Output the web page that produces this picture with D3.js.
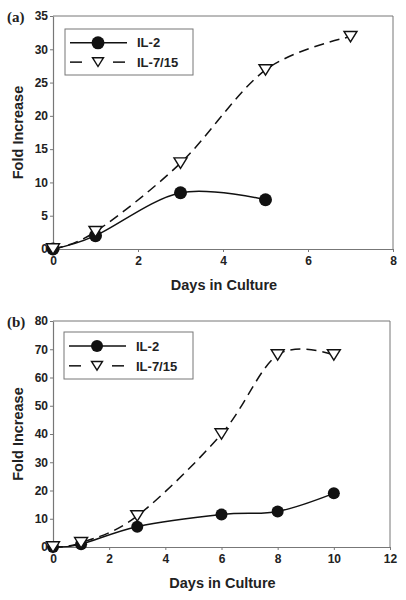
<!DOCTYPE html>
<html>
<head>
<meta charset="utf-8">
<script src="https://cdn.jsdelivr.net/npm/d3@7"></script>
<style>
  html, body { margin: 0; padding: 0; background: #fff; }
  svg { display: block; }
</style>
</head>
<body>
<svg id="chart" width="406" height="600"></svg>
<script>
// ---- Data ----
const seriesNames = ["IL-2", "IL-7/15"];

// Panel (a)
const daysA_IL2 = [0, 1, 3, 5];
const valsA_IL2 = [0, 2, 8.45, 7.4];
const daysA_IL715 = [0, 1, 3, 5, 7];
const valsA_IL715 = [0, 2.6, 12.9, 26.9, 31.9];
const xTicksA = [0, 2, 4, 6, 8];
const yTicksA = [0, 5, 10, 15, 20, 25, 30, 35];

// Panel (b)
const daysB_IL2 = [0, 1, 3, 6, 8, 10];
const valsB_IL2 = [0, 1, 7.2, 11.5, 12.6, 19];
const daysB_IL715 = [0, 1, 3, 6, 8, 10];
const valsB_IL715 = [0, 1.5, 11, 40, 68, 68];
const xTicksB = [0, 2, 4, 6, 8, 10, 12];
const yTicksB = [0, 10, 20, 30, 40, 50, 60, 70, 80];

const svg = d3.select("#chart");
const FONT = "'Liberation Sans', Arial, Helvetica, sans-serif";
const AXIS_COLOR = "#777";

function panel(cfg) {
  const g = svg.append("g");
  const x = d3.scaleLinear().domain(cfg.xDomain).range([cfg.left, cfg.right]);
  const y = d3.scaleLinear().domain(cfg.yDomain).range([cfg.bottom, cfg.top]);

  // frame top & right
  g.append("line").attr("x1", cfg.left).attr("x2", cfg.right).attr("y1", cfg.top).attr("y2", cfg.top)
    .attr("stroke", AXIS_COLOR).attr("stroke-width", 1);
  g.append("line").attr("x1", cfg.right).attr("x2", cfg.right).attr("y1", cfg.top).attr("y2", cfg.bottom)
    .attr("stroke", AXIS_COLOR).attr("stroke-width", 1);

  // axes
  const xAxis = g.append("g").attr("transform", `translate(0,${cfg.bottom})`)
    .call(d3.axisBottom(x).tickValues(cfg.xTicks).tickSize(3).tickSizeOuter(0).tickFormat(d3.format("d")));
  const yAxis = g.append("g").attr("transform", `translate(${cfg.left},0)`)
    .call(d3.axisLeft(y).tickValues(cfg.yTicks).tickSize(3).tickSizeOuter(0).tickFormat(d3.format("d")));
  [xAxis, yAxis].forEach(a => {
    a.select(".domain").attr("stroke", AXIS_COLOR).attr("stroke-width", 1.2);
    a.selectAll(".tick line").attr("stroke", AXIS_COLOR);
    a.selectAll(".tick text").attr("font-family", FONT).attr("font-weight", "bold")
      .attr("font-size", 12).attr("fill", "#222");
  });
  xAxis.selectAll(".tick text").attr("dy", "0.71em").attr("y", 7);
  yAxis.selectAll(".tick text").attr("x", -5);

  // axis titles
  g.append("text").attr("x", (cfg.left + cfg.right) / 2 + 1).attr("y", cfg.bottom + 41)
    .attr("text-anchor", "middle").attr("font-family", FONT).attr("font-weight", "bold")
    .attr("font-size", 14.5).attr("fill", "#222").text("Days in Culture");
  g.append("text")
    .attr("transform", `translate(23,${(cfg.top + cfg.bottom) / 2}) rotate(-90)`)
    .attr("text-anchor", "middle").attr("font-family", FONT).attr("font-weight", "bold")
    .attr("font-size", 14.5).attr("fill", "#222").text("Fold Increase");

  // panel label
  g.append("text").attr("x", 7).attr("y", cfg.top + 6)
    .attr("font-family", "'Liberation Serif', 'Times New Roman', serif").attr("font-weight", "bold")
    .attr("font-size", 15).attr("fill", "#222").text(cfg.label);

  const line = d3.line().x(d => x(d[0])).y(d => y(d[1])).curve(d3.curveCardinal.tension(0));
  const dA = cfg.d1.map((d, i) => [d, cfg.v1[i]]);
  const dB = cfg.d2.map((d, i) => [d, cfg.v2[i]]);

  g.append("path").datum(dB).attr("d", line).attr("fill", "none")
    .attr("stroke", "#111").attr("stroke-width", 1.5).attr("stroke-dasharray", "10,6");
  g.append("path").datum(dA).attr("d", line).attr("fill", "none")
    .attr("stroke", "#111").attr("stroke-width", 1.5);

  const tri = (s) => `M${-s},${-s * 0.8}L${s},${-s * 0.8}L0,${s * 0.8}Z`;

  g.selectAll("circle.m").data(dA).join("circle").attr("class", "m")
    .attr("cx", d => x(d[0])).attr("cy", d => y(d[1])).attr("r", cfg.r).attr("fill", "#111");
  g.selectAll("path.t").data(dB).join("path").attr("class", "t")
    .attr("transform", d => `translate(${x(d[0])},${y(d[1])})`)
    .attr("d", tri(6.5)).attr("fill", "#fff").attr("stroke", "#111").attr("stroke-width", 1.4);

  // legend
  const L = cfg.legend;
  g.append("rect").attr("x", L.x).attr("y", L.y).attr("width", L.w).attr("height", L.h)
    .attr("fill", "#fff").attr("stroke", AXIS_COLOR).attr("stroke-width", 1);
  const rows = [L.y + L.h * 0.3, L.y + L.h * 0.72];
  // row 1 solid with circle
  g.append("line").attr("x1", L.x + 5).attr("x2", L.x + 62).attr("y1", rows[0]).attr("y2", rows[0])
    .attr("stroke", "#111").attr("stroke-width", 1.5);
  g.append("circle").attr("cx", L.x + 33).attr("cy", rows[0]).attr("r", cfg.r).attr("fill", "#111");
  // row 2 dashed with triangle
  g.append("line").attr("x1", L.x + 5).attr("x2", L.x + 17).attr("y1", rows[1]).attr("y2", rows[1])
    .attr("stroke", "#111").attr("stroke-width", 1.5);
  g.append("line").attr("x1", L.x + 48).attr("x2", L.x + 60).attr("y1", rows[1]).attr("y2", rows[1])
    .attr("stroke", "#111").attr("stroke-width", 1.5);
  g.append("path").attr("transform", `translate(${L.x + 33},${rows[1]})`).attr("d", tri(5.5))
    .attr("fill", "#fff").attr("stroke", "#111").attr("stroke-width", 1.4);
  seriesNames.forEach((n, i) => {
    g.append("text").attr("x", L.x + 72).attr("y", rows[i]).attr("dy", "0.36em")
      .attr("font-family", FONT).attr("font-weight", "bold").attr("font-size", 13)
      .attr("fill", "#222").text(n);
  });
}

panel({
  label: "(a)", xDomain: [0, 8], yDomain: [0, 35], left: 53, right: 393, top: 16, bottom: 249,
  xTicks: xTicksA, yTicks: yTicksA, d1: daysA_IL2, v1: valsA_IL2, d2: daysA_IL715, v2: valsA_IL715,
  r: 6.5, legend: { x: 65, y: 29, w: 128, h: 46 }
});
panel({
  label: "(b)", xDomain: [0, 12], yDomain: [0, 80], left: 53, right: 390, top: 321, bottom: 547,
  xTicks: xTicksB, yTicks: yTicksB, d1: daysB_IL2, v1: valsB_IL2, d2: daysB_IL715, v2: valsB_IL715,
  r: 6, legend: { x: 64, y: 332, w: 129, h: 47 }
});
</script>
</body>
</html>
